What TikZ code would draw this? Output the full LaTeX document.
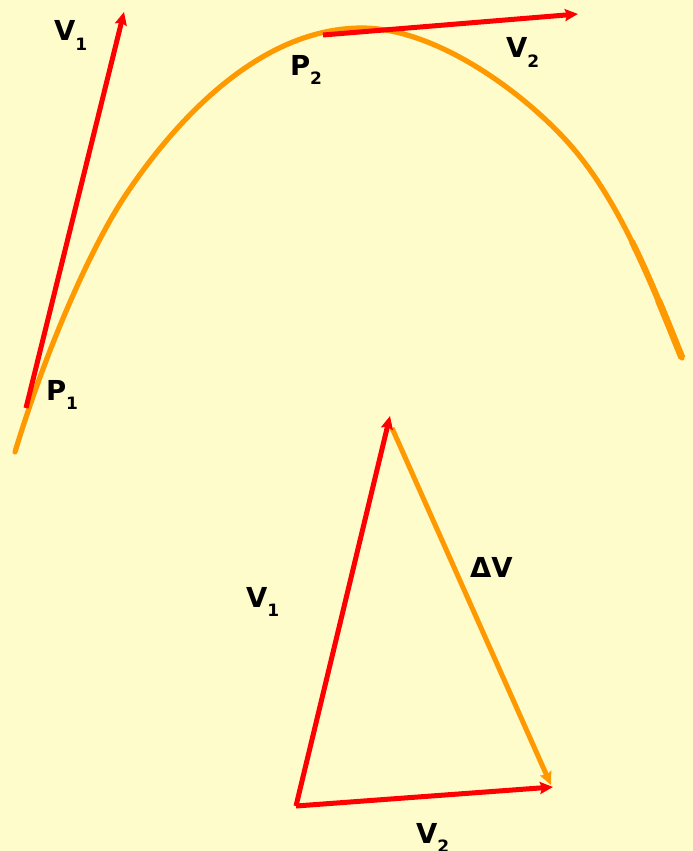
\documentclass[tikz,border=0pt]{standalone}
\usepackage{fontspec}
\setmainfont{DejaVu Sans}
\usetikzlibrary{arrows.meta}
\definecolor{bg}{HTML}{FFFCCC}
\definecolor{vred}{HTML}{FF0000}
\definecolor{vorange}{HTML}{FF9900}
\newcommand\vlab[2]{#1\raisebox{-0.36em}{\fontsize{17}{17}\selectfont #2}}
\tikzset{
  lab/.style={inner sep=0pt, outer sep=0pt, anchor=base west, font=\fontsize{27.5}{28}\selectfont\bfseries},
  redvec/.style={draw=vred, line width=5pt, -{Stealth[length=13pt,width=12pt,inset=2pt]}},
  orangevec/.style={draw=vorange, line width=5pt, -{Stealth[length=13pt,width=12pt,inset=2pt]}},
  traj/.style={draw=vorange, line width=5.2pt, line cap=round}
}
\begin{document}
\begin{tikzpicture}[x=1pt,y=-1pt]
\useasboundingbox (0,0) rectangle (693,851);
\fill[bg] (0,0) rectangle (693,851);
% trajectory
\draw[traj] (15,452) .. controls (47,346) and (93,243) .. (127,193)
  .. controls (166,135) and (252,28) .. (362,28)
  .. controls (432,28) and (515,86) .. (563,137)
  .. controls (618,195) and (652,284) .. (682,358);
\draw[traj, line width=6.2pt, line cap=butt] (631.9,241.5) .. controls (651,280.25) and (667,321) .. (682,358);
\draw[traj, line width=7pt, line cap=butt] (658.49,300.4) .. controls (666.75,320.06) and (674.5,339.5) .. (682,358);
% upper vectors
\coordinate (p1) at (26,408);
\coordinate (v1tip) at (124,12);
\coordinate (p2) at (323,35);
\coordinate (v2tip) at (578,14);
\draw[redvec] (p1) -- (v1tip);
\draw[redvec] (p2) -- (v2tip);
% labels upper
\node[lab] (lv1) at (54,41) {\vlab{V}{1}};
\node[lab] (lp1) at (46,400) {\vlab{P}{1}};
\node[lab] (lp2) at (290,75) {\vlab{P}{2}};
\node[lab] (lv2) at (506,58) {\vlab{V}{2}};
% lower triangle
\coordinate (o) at (296,806);
\coordinate (a) at (390,416);
\coordinate (dvs) at (392,428);
\coordinate (b) at (553,787);
\coordinate (dve) at (551,785);
\draw[orangevec] (dvs) -- (dve);
\draw[redvec] (o) -- (a);
\draw[redvec] (o) -- (b);
\node[lab] (lbv1) at (246,607) {\vlab{V}{1}};
\node[lab] (ldv) at (470,577) {ΔV};
\node[lab] (lbv2) at (416,843) {\vlab{V}{2}};
\end{tikzpicture}
\end{document}
